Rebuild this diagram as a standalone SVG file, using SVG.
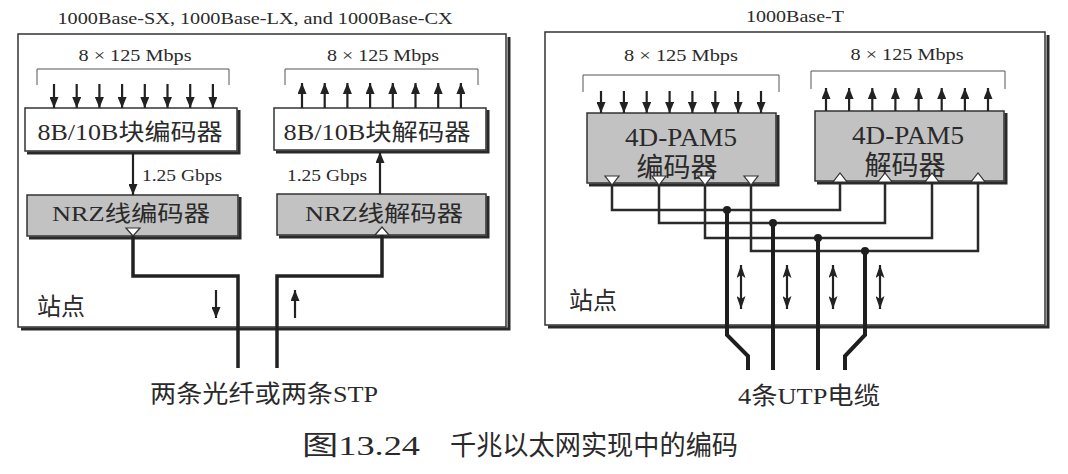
<svg xmlns="http://www.w3.org/2000/svg" width="1068" height="474" viewBox="0 0 1068 474">
<style>
.t{font-family:"Liberation Serif","Noto Sans CJK SC",serif;fill:#2a2a2a}
.c{font-family:"Liberation Serif","Noto Sans CJK SC",serif;fill:#2a2a2a}
.frame{fill:#fff;stroke:#333;stroke-width:1.5}
.shadow{fill:none;stroke:#2a2a2a;stroke-width:3}
.box{fill:#fff;stroke:#333;stroke-width:1.5}
.gbox{fill:#c2c2c2;stroke:#333;stroke-width:1.5}
.br{fill:none;stroke:#555;stroke-width:1}
.ar{stroke:#222;stroke-width:2.2;fill:none}
.thick{fill:none;stroke:#222;stroke-width:3.5}
.wire{fill:none;stroke:#2a2a2a;stroke-width:2.5}
.cable{fill:none;stroke:#1e1e1e;stroke-width:4}
.tri{fill:#fff;stroke:#333;stroke-width:1.2}
</style>
<defs>
<marker id="ah" viewBox="0 0 11 9" refX="11" refY="4.5" markerWidth="11" markerHeight="9" orient="auto-start-reverse" markerUnits="userSpaceOnUse"><path d="M0,0 L11,4.5 L0,9 z" fill="#222"/></marker>
<marker id="ah2" viewBox="0 0 13 9" refX="13" refY="4.5" markerWidth="13" markerHeight="9" orient="auto-start-reverse" markerUnits="userSpaceOnUse"><path d="M0,0 L13,4.5 L0,9 L3,4.5 z" fill="#222"/></marker>
</defs>
<rect width="1068" height="474" fill="#fff"/>

<!-- Left panel -->
<g id="left-station">
<text class="t" x="255" y="24" font-size="16" text-anchor="middle" textLength="395" lengthAdjust="spacingAndGlyphs">1000Base-SX, 1000Base-LX, and 1000Base-CX</text>
<rect class="frame" x="18" y="34" width="488" height="293"/>
<polyline class="shadow" points="509,37 509,329 21,329"/>
<text class="c" x="37" y="315" font-size="24">站点</text>
</g>

<g id="left-encoder">
<text class="t" x="135" y="61" font-size="17" text-anchor="middle" textLength="113" lengthAdjust="spacingAndGlyphs">8 × 125 Mbps</text>
<polyline class="br" points="37,85 37,69 229,69 229,85"/>
<rect class="box" x="25" y="108" width="212" height="43"/>
<polyline class="shadow" points="239,110 239,153 27,153"/>
<text class="c" x="130" y="140" font-size="23" text-anchor="middle" textLength="185" lengthAdjust="spacingAndGlyphs">8B/10B块编码器</text>
</g>

<g id="left-decoder">
<text class="t" x="383" y="61" font-size="17" text-anchor="middle" textLength="112" lengthAdjust="spacingAndGlyphs">8 × 125 Mbps</text>
<polyline class="br" points="285,85 285,69 478,69 478,85"/>
<rect class="box" x="274" y="108" width="212" height="42"/>
<polyline class="shadow" points="488,110 488,152 276,152"/>
<text class="c" x="377" y="140" font-size="23" text-anchor="middle" textLength="187" lengthAdjust="spacingAndGlyphs">8B/10B块解码器</text>
</g>

<g id="left-nrz-encoder">
<rect class="gbox" x="27" y="195" width="211" height="41"/>
<polyline class="shadow" points="240,197 240,238 29,238"/>
<text class="c" x="131" y="221" font-size="22" text-anchor="middle" textLength="158" lengthAdjust="spacingAndGlyphs">NRZ线编码器</text>
<polygon class="tri" points="126,228 140,228 133,236"/>
</g>

<g id="left-nrz-decoder">
<rect class="gbox" x="277" y="194" width="209" height="41"/>
<polyline class="shadow" points="488,196 488,237 279,237"/>
<text class="c" x="384" y="221" font-size="22" text-anchor="middle" textLength="158" lengthAdjust="spacingAndGlyphs">NRZ线解码器</text>
<polygon class="tri" points="375,235 389,235 382,227"/>
</g>

<!-- Right panel -->
<g id="right-station">
<text class="t" x="795" y="22" font-size="16" text-anchor="middle" textLength="98" lengthAdjust="spacingAndGlyphs">1000Base-T</text>
<rect class="frame" x="545" y="32" width="500" height="293"/>
<polyline class="shadow" points="1048,35 1048,327 548,327"/>
<text class="c" x="569" y="309" font-size="24">站点</text>
</g>

<g id="right-encoder">
<text class="t" x="681" y="61" font-size="17" text-anchor="middle" textLength="114" lengthAdjust="spacingAndGlyphs">8 × 125 Mbps</text>
<polyline class="br" points="583,92 583,75 779,75 779,92"/>
<rect class="gbox" x="587" y="113" width="189" height="70"/>
<polyline class="shadow" points="778,115 778,185 589,185"/>
<text class="t" x="681" y="146" font-size="26" text-anchor="middle" textLength="112" lengthAdjust="spacingAndGlyphs">4D-PAM5</text>
<text class="c" x="677" y="177" font-size="27" text-anchor="middle">编码器</text>
<polygon class="tri" points="605,176 619,176 612,185"/>
<polygon class="tri" points="652,176 666,176 659,185"/>
<polygon class="tri" points="698,176 712,176 705,185"/>
<polygon class="tri" points="744,176 758,176 751,185"/>
</g>

<g id="right-decoder">
<text class="t" x="907" y="60" font-size="17" text-anchor="middle" textLength="113" lengthAdjust="spacingAndGlyphs">8 × 125 Mbps</text>
<polyline class="br" points="811,89 811,71 1005,71 1005,89"/>
<rect class="gbox" x="815" y="111" width="189" height="70"/>
<polyline class="shadow" points="1006,113 1006,183 817,183"/>
<text class="t" x="908" y="144" font-size="26" text-anchor="middle" textLength="112" lengthAdjust="spacingAndGlyphs">4D-PAM5</text>
<text class="c" x="905" y="175" font-size="27" text-anchor="middle">解码器</text>
<polygon class="tri" points="833,182 847,182 840,173"/>
<polygon class="tri" points="878,182 892,182 885,173"/>
<polygon class="tri" points="925,182 939,182 932,173"/>
<polygon class="tri" points="971,182 985,182 978,173"/>
</g>

<g id="connectors">
<g class="ar" marker-end="url(#ah)">
<line x1="54" y1="84" x2="54" y2="108"/>
<line x1="76.7" y1="84" x2="76.7" y2="108"/>
<line x1="99.4" y1="84" x2="99.4" y2="108"/>
<line x1="122.1" y1="84" x2="122.1" y2="108"/>
<line x1="144.8" y1="84" x2="144.8" y2="108"/>
<line x1="167.5" y1="84" x2="167.5" y2="108"/>
<line x1="190.2" y1="84" x2="190.2" y2="108"/>
<line x1="212.9" y1="84" x2="212.9" y2="108"/>
</g>
<g class="ar" marker-end="url(#ah)">
<line x1="302" y1="108" x2="302" y2="83"/>
<line x1="324.7" y1="108" x2="324.7" y2="83"/>
<line x1="347.4" y1="108" x2="347.4" y2="83"/>
<line x1="370.1" y1="108" x2="370.1" y2="83"/>
<line x1="392.8" y1="108" x2="392.8" y2="83"/>
<line x1="415.5" y1="108" x2="415.5" y2="83"/>
<line x1="438.2" y1="108" x2="438.2" y2="83"/>
<line x1="460.9" y1="108" x2="460.9" y2="83"/>
</g>
<line class="ar" x1="133" y1="153" x2="133" y2="195" marker-end="url(#ah)"/>
<text class="t" x="142" y="181" font-size="16" textLength="80" lengthAdjust="spacingAndGlyphs">1.25 Gbps</text>
<line class="ar" x1="380" y1="194" x2="380" y2="152" marker-end="url(#ah)"/>
<text class="t" x="287" y="181" font-size="16" textLength="80" lengthAdjust="spacingAndGlyphs">1.25 Gbps</text>
<polyline class="thick" points="133,236 133,276 238,276 238,368"/>
<polyline class="thick" points="382,235 382,276 277,276 277,368"/>
<line class="ar" x1="216" y1="290" x2="216" y2="318" marker-end="url(#ah)"/>
<line class="ar" x1="295" y1="318" x2="295" y2="290" marker-end="url(#ah)"/>

<g class="ar" marker-end="url(#ah)">
<line x1="601" y1="91" x2="601" y2="113"/>
<line x1="623.9" y1="91" x2="623.9" y2="113"/>
<line x1="646.7" y1="91" x2="646.7" y2="113"/>
<line x1="669.6" y1="91" x2="669.6" y2="113"/>
<line x1="692.4" y1="91" x2="692.4" y2="113"/>
<line x1="715.3" y1="91" x2="715.3" y2="113"/>
<line x1="738.1" y1="91" x2="738.1" y2="113"/>
<line x1="761" y1="91" x2="761" y2="113"/>
</g>
<g class="ar" marker-end="url(#ah)">
<line x1="826" y1="111" x2="826" y2="88"/>
<line x1="849.1" y1="111" x2="849.1" y2="88"/>
<line x1="872.3" y1="111" x2="872.3" y2="88"/>
<line x1="895.4" y1="111" x2="895.4" y2="88"/>
<line x1="918.6" y1="111" x2="918.6" y2="88"/>
<line x1="941.7" y1="111" x2="941.7" y2="88"/>
<line x1="964.9" y1="111" x2="964.9" y2="88"/>
<line x1="988" y1="111" x2="988" y2="88"/>
</g>
<polyline class="wire" points="612,185 612,210 840,210 840,182"/>
<polyline class="wire" points="659,185 659,223 885,223 885,182"/>
<polyline class="wire" points="705,185 705,238 932,238 932,182"/>
<polyline class="wire" points="751,185 751,251 978,251 978,182"/>
<polyline class="cable" points="727,210 727,335 748,356 748,370"/>
<polyline class="cable" points="773,223 773,370"/>
<polyline class="cable" points="818,238 818,370"/>
<polyline class="cable" points="865,251 865,335 845,356 845,370"/>
<g fill="#1e1e1e">
<circle cx="727" cy="210" r="4"/>
<circle cx="773" cy="223" r="4"/>
<circle cx="818" cy="238" r="4"/>
<circle cx="865" cy="251" r="4"/>
</g>
<g class="ar" stroke-width="2.5" marker-start="url(#ah2)" marker-end="url(#ah2)">
<line x1="741" y1="265" x2="741" y2="309"/>
<line x1="787" y1="265" x2="787" y2="309"/>
<line x1="833" y1="265" x2="833" y2="309"/>
<line x1="880" y1="265" x2="880" y2="309"/>
</g>
</g>

<g id="labels">
<text class="c" x="264" y="402" font-size="24" text-anchor="middle" textLength="228" lengthAdjust="spacingAndGlyphs">两条光纤或两条STP</text>
<text class="c" x="809" y="404" font-size="24" text-anchor="middle" textLength="142" lengthAdjust="spacingAndGlyphs">4条UTP电缆</text>
<text class="c" x="302" y="455" font-size="27" textLength="118" lengthAdjust="spacingAndGlyphs">图13.24</text>
<text class="c" x="450" y="455" font-size="27" textLength="288" lengthAdjust="spacingAndGlyphs">千兆以太网实现中的编码</text>
</g>
</svg>
